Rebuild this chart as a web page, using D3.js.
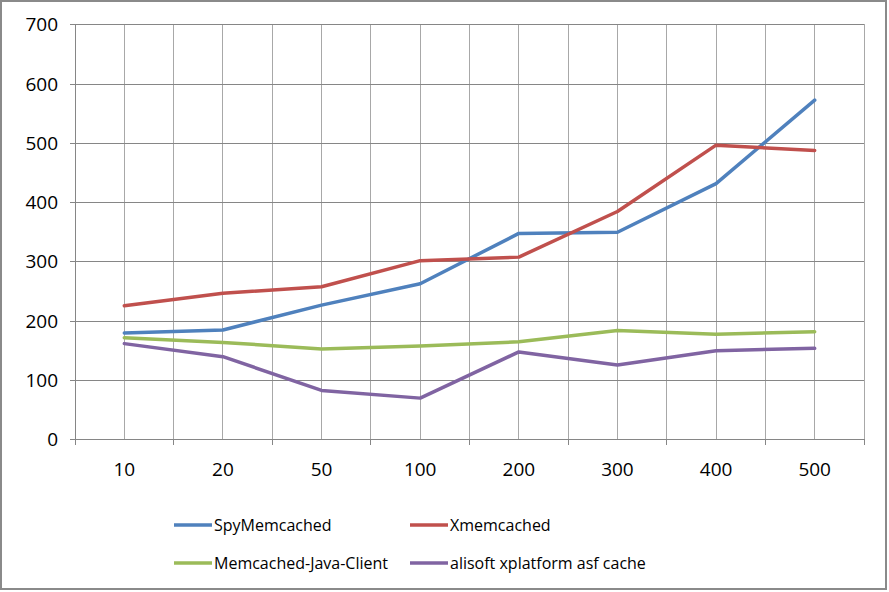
<!DOCTYPE html>
<html><head><meta charset="utf-8">
<script src="https://cdn.jsdelivr.net/npm/d3@7"></script>
<style>body{margin:0;background:#fff}svg{display:block}text{font-family:"Open Sans",sans-serif;fill:#000}</style>
</head><body><svg id="c" width="889" height="592"></svg>
<script>
const categories = ["10","20","50","100","200","300","400","500"];
const yTicks = [0,100,200,300,400,500,600,700];
const seriesNames = ["SpyMemcached","Xmemcached","Memcached-Java-Client","alisoft xplatform asf cache"];
const spyMemcached = [179,184,226,262,347,349,431,572];
const xmemcached = [225,246,257,301,307,384,496,487];
const javaClient = [171,163,152,157,164,183,177,181];
const alisoft = [161,139,82,69,147,125,149,153];
const colors = ["#4F81BD","#C0504D","#9BBB59","#8064A2"];
const seriesValues = [spyMemcached,xmemcached,javaClient,alisoft];

const svg = d3.select("#c");
const L=75,R=864,T=24.3,B=439;
svg.append("rect").attr("x",1).attr("y",1).attr("width",885).attr("height",588)
  .attr("fill","#fff").attr("stroke","#8a8a8a").attr("stroke-width",2);

const x = d3.scaleBand().domain(categories).range([L,R]).padding(0);
const y = d3.scaleLinear().domain([0,700]).range([B,T]);

// vertical gridlines at category boundaries and centres
const vg = svg.append("g");
categories.forEach((c,i)=>{
  [x(c), x(c)+x.bandwidth()/2].forEach(px=>{
    if (Math.abs(px-L)<1) return;
    vg.append("line").attr("x1",px).attr("x2",px).attr("y1",T).attr("y2",B)
      .attr("stroke","#a8a8a8").attr("stroke-width",1).attr("shape-rendering","crispEdges");
  });
});
vg.append("line").attr("x1",R).attr("x2",R).attr("y1",T).attr("y2",B)
  .attr("stroke","#a8a8a8").attr("shape-rendering","crispEdges");

// horizontal gridlines
const yAxis = d3.axisLeft(y).tickValues(yTicks).tickSize(-(R-L)).tickPadding(17);
const gy = svg.append("g").attr("transform",`translate(${L},0)`).call(yAxis);
gy.select(".domain").remove();
gy.selectAll(".tick line").attr("stroke","#868686").attr("shape-rendering","crispEdges");
gy.selectAll(".tick").append("line").attr("x1",-5).attr("x2",0).attr("stroke","#868686").attr("shape-rendering","crispEdges");
gy.selectAll(".tick text").style("font-size","19px").attr("fill","#000").attr("dy","0.35em");

// y axis line
svg.append("line").attr("x1",L).attr("x2",L).attr("y1",T).attr("y2",B).attr("stroke","#868686").attr("shape-rendering","crispEdges");

// x axis
const xAxis = d3.axisBottom(x).tickSize(0).tickPadding(24);
const gx = svg.append("g").attr("transform",`translate(0,${B})`).call(xAxis);
gx.select(".domain").attr("stroke","#868686").attr("shape-rendering","crispEdges");
gx.selectAll(".tick text").style("font-size","19px").attr("fill","#000");
const bounds = categories.map(c=>x(c)).concat([R]);
gx.selectAll(".bt").data(bounds).join("line").attr("x1",d=>d).attr("x2",d=>d).attr("y1",0).attr("y2",6)
  .attr("stroke","#868686").attr("shape-rendering","crispEdges");

// lines
const line = d3.line().x((d,i)=>x(categories[i])+x.bandwidth()/2).y(d=>y(d));
seriesValues.forEach((vals,k)=>{
  svg.append("path").datum(vals).attr("d",line).attr("fill","none")
    .attr("stroke",colors[k]).attr("stroke-width",3.5).attr("stroke-linejoin","round").attr("stroke-linecap","round");
});

// legend
const legPos = [[174,525],[410,525],[174,563],[410,563]];
seriesNames.forEach((n,k)=>{
  const [lx,ly]=legPos[k];
  svg.append("line").attr("x1",lx).attr("x2",lx+38).attr("y1",ly).attr("y2",ly)
    .attr("stroke",colors[k]).attr("stroke-width",3.5);
  svg.append("text").attr("x",lx+40).attr("y",ly).attr("dy","0.35em").style("font-size","16px").text(n);
});
</script></body></html>
